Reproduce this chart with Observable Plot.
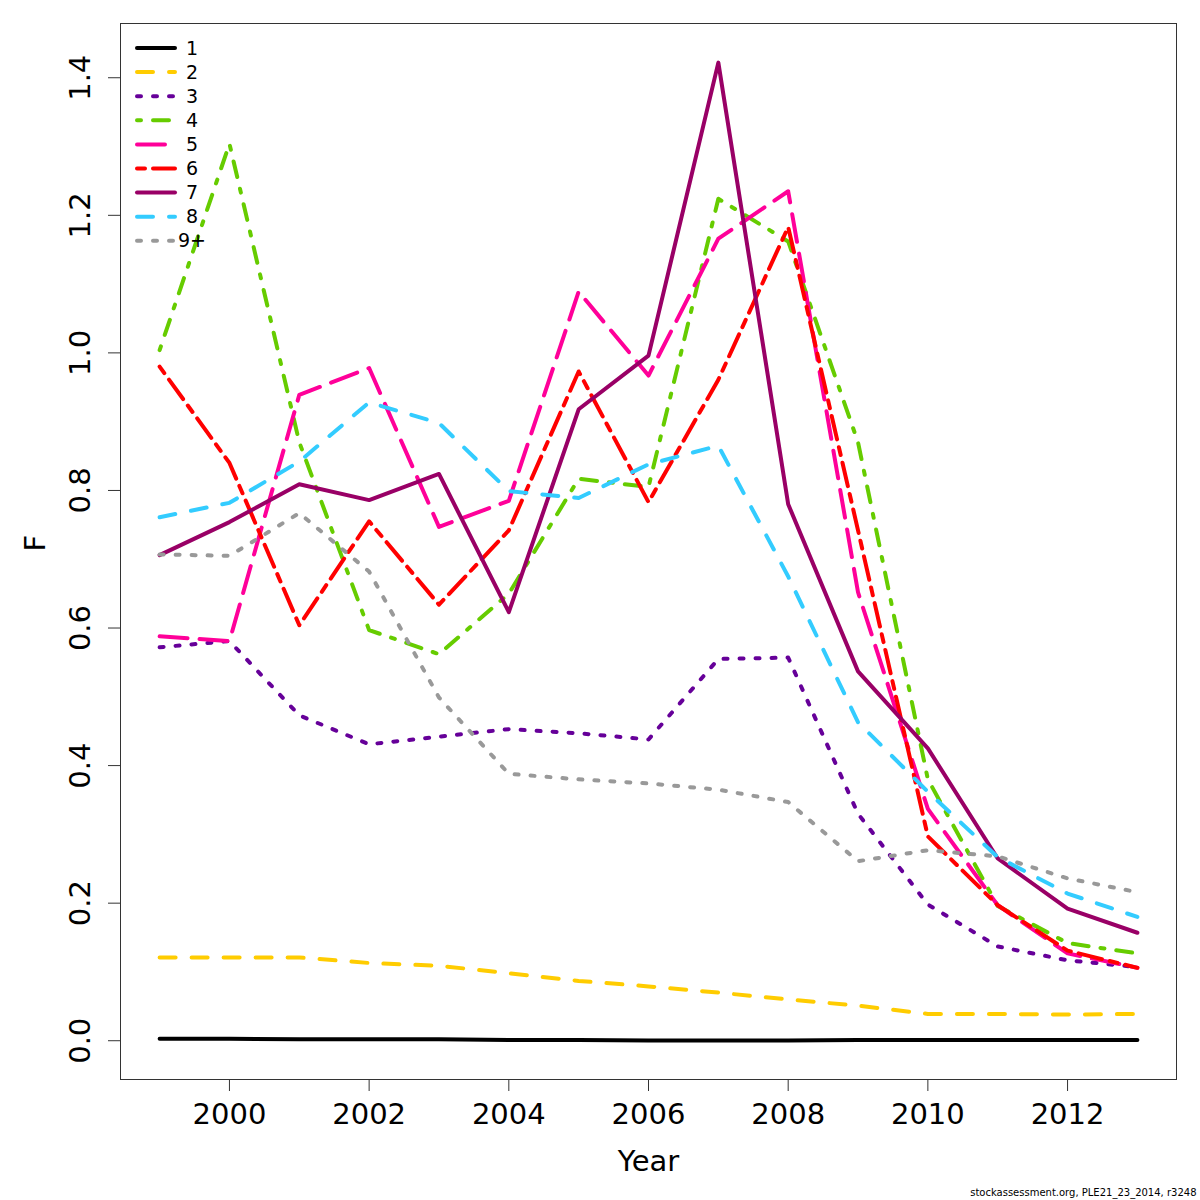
<!DOCTYPE html>
<html>
<head>
<meta charset="utf-8">
<script src="https://cdn.jsdelivr.net/npm/d3@7"></script>
<script src="https://cdn.jsdelivr.net/npm/@observablehq/plot@0.6"></script>
<style>
  html, body { margin: 0; padding: 0; background: #fff; }
  #chart { width: 1200px; height: 1200px; }
</style>
</head>
<body>
<div id="chart"></div>
<script>
const years = [1999,2000,2001,2002,2003,2004,2005,2006,2007,2008,2009,2010,2011,2012,2013];
const ages = ["1","2","3","4","5","6","7","8","9+"];
const f1 = [0.003,0.003,0.002,0.002,0.002,0.001,0.001,0.0005,0.0005,0.0005,0.001,0.001,0.001,0.001,0.001];
const f2 = [0.121,0.121,0.121,0.113,0.109,0.098,0.087,0.079,0.070,0.060,0.051,0.039,0.039,0.038,0.039];
const f3 = [0.572,0.581,0.473,0.431,0.442,0.453,0.447,0.438,0.555,0.557,0.330,0.198,0.137,0.117,0.107];
const f4 = [1.004,1.304,0.870,0.597,0.562,0.650,0.817,0.805,1.224,1.162,0.870,0.380,0.196,0.142,0.127];
const f5 = [0.588,0.581,0.939,0.978,0.747,0.785,1.089,0.967,1.166,1.235,0.652,0.337,0.197,0.127,0.106];
const f6 = [0.980,0.840,0.604,0.755,0.634,0.742,0.973,0.783,0.961,1.183,0.742,0.297,0.197,0.131,0.106];
const f7 = [0.706,0.754,0.809,0.786,0.824,0.623,0.918,0.996,1.422,0.780,0.537,0.425,0.265,0.192,0.157];
const f8 = [0.761,0.782,0.842,0.928,0.898,0.799,0.789,0.838,0.865,0.675,0.463,0.362,0.267,0.214,0.180];
const f9 = [0.707,0.705,0.767,0.682,0.499,0.388,0.380,0.374,0.365,0.347,0.261,0.277,0.268,0.236,0.216];
const seriesValues = [f1,f2,f3,f4,f5,f6,f7,f8,f9];
const colors = ["#000000","#FFCC00","#660099","#66CC00","#FF0099","#FF0000","#990066","#33CCFF","#999999"];
const dashes = ["none","16,16","4,12","4,12,16,12","28,12","8,8,24,8","none","16,16","4,12"];
const xTicks = [2000,2002,2004,2006,2008,2010,2012];
const yTicks = [0,0.2,0.4,0.6,0.8,1.0,1.2,1.4];
const caption = "stockassessment.org, PLE21_23_2014, r3248";

const rows = [];
seriesValues.forEach((vals, s) => vals.forEach((v, i) => rows.push({Year: years[i], F: v, age: ages[s], s})));

// R-style 4% axis extension
const xExt = d3.extent(years), xr = xExt[1] - xExt[0];
const allF = rows.map(d => d.F);
const yExt = [d3.min(allF), d3.max(allF)], yr = yExt[1] - yExt[0];

const FONT = "DejaVu Sans, Liberation Sans, sans-serif";

const legendMark = () => {
  const g = d3.create("svg:g").attr("font-family", FONT);
  ages.forEach((a, i) => {
    const y = 48 + i * 24.1;
    g.append("line").attr("x1", 137).attr("x2", 175).attr("y1", y).attr("y2", y)
      .attr("stroke", colors[i]).attr("stroke-width", 4)
      .attr("stroke-dasharray", dashes[i]).attr("stroke-linecap", "round");
    g.append("text").attr("x", 192).attr("y", y).attr("dy", "0.35em")
      .attr("font-size", 19).attr("fill", "#000").text(a);
  });
  return g.node();
};

const lineMarks = seriesValues.map((vals, s) =>
  Plot.line(rows.filter(d => d.s === s), {
    x: "Year", y: "F", stroke: colors[s], strokeWidth: 4,
    strokeDasharray: dashes[s], strokeLinecap: "round", strokeLinejoin: "round"
  })
);

const chart = Plot.plot({
  width: 1200,
  height: 1200,
  marginLeft: 120,
  marginRight: 24,
  marginTop: 23,
  marginBottom: 121,
  style: {fontFamily: FONT, background: "#fff", color: "#000"},
  x: {domain: [xExt[0] - 0.04 * xr, xExt[1] + 0.04 * xr]},
  y: {domain: [yExt[0] - 0.04 * yr, yExt[1] + 0.04 * yr]},
  marks: [
    Plot.frame({stroke: "#333", strokeWidth: 1}),
    Plot.axisX({ticks: xTicks, tickSize: 12, tickPadding: 12, tickFormat: d => String(d), fontSize: 29, label: null, stroke: "#333"}),
    Plot.axisY({ticks: yTicks, tickSize: 12, tickFormat: () => "", label: null, stroke: "#333"}),
    Plot.text(yTicks, {y: d => d, frameAnchor: "left", dx: -40, rotate: -90, text: d => d.toFixed(1), fontSize: 29, textAnchor: "middle", lineAnchor: "middle"}),
    Plot.text(["Year"], {frameAnchor: "bottom", dy: 82, fontSize: 29, lineAnchor: "middle"}),
    Plot.text(["F"], {frameAnchor: "left", dx: -85, rotate: -90, fontSize: 29, lineAnchor: "middle"}),
    Plot.text([caption], {frameAnchor: "bottom-right", dx: 20, dy: 113, fontSize: 10, textAnchor: "end", lineAnchor: "middle"}),
    ...lineMarks,
    legendMark
  ]
});
document.getElementById("chart").appendChild(chart);
</script>
</body>
</html>
